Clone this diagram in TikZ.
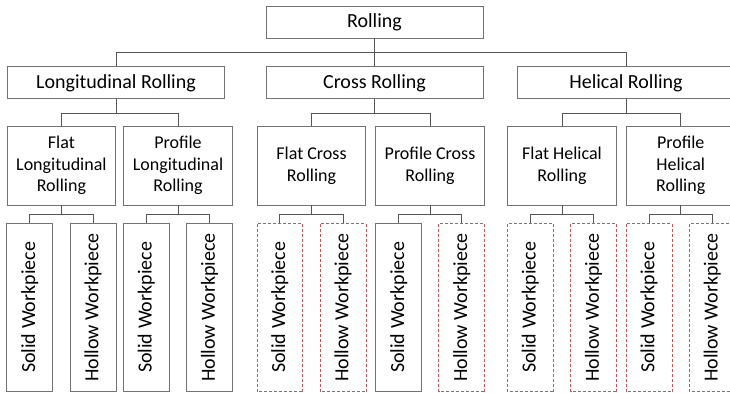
\documentclass[tikz,border=0pt]{standalone}
\usepackage{fontspec}
\setmainfont{Carlito}
\usetikzlibrary{calc}
\definecolor{boxgray}{RGB}{115,115,115}
\definecolor{linegray}{RGB}{85,85,85}
\definecolor{softred}{RGB}{210,80,80}
\definecolor{deepred}{RGB}{195,80,80}
\tikzset{
	box/.style={draw=boxgray, line width=0.9pt, inner sep=2pt, align=center},
	toplevel/.style={box, minimum width=217pt, minimum height=32pt, font=\fontsize{20}{24}\selectfont},
	method/.style={box, minimum width=108.5pt, minimum height=79pt, font=\fontsize{18}{21.7}\selectfont},
	leaf/.style={inner sep=2pt, rotate=90, minimum width=168pt, minimum height=45.5pt, font=\fontsize{20}{24}\selectfont},
	frame/.style={draw=boxgray, line width=0.9pt},
	framedash/.style={draw=softred, line width=0.9pt, dash pattern=on 3pt off 2pt},
	framered/.style={draw=deepred, line width=1pt},
	conn/.style={draw=linegray, line width=0.9pt}
}
\newcommand{\joinnodes}[3]{   % parent, child anchor, bus
	\draw[conn] (#1.south) -- (#1.south |- #3) -| (#2);
}

\begin{document}
\begin{tikzpicture}[x=1pt, y=-1pt]

\useasboundingbox (0,0) rectangle (730,393);
\clip (0,0) rectangle (730,393);

\coordinate (busA) at (0,52.3);
\coordinate (busB) at (0,113.3);
\coordinate (busC) at (0,214.3);

% top and main kinds
\node[toplevel] (root) at (374.5,22) {Rolling};
\node[toplevel] (long) at (116,82.8) {Longitudinal Rolling};
\node[toplevel] (cross) at (374.5,82.8) {Cross Rolling};
\node[toplevel] (helical) at (626,82.8) {Helical Rolling};

% flat and profile variants
\node[method] (flatlong) at (61.4,165.5) {Flat\\Longitudinal\\Rolling};
\node[method] (proflong) at (178,165.5) {Profile\\Longitudinal\\Rolling};
\node[method] (flatcross) at (311.5,165.5) {Flat Cross\\Rolling};
\node[method] (profcross) at (430,165.5) {Profile Cross\\Rolling};
\node[method] (flathel) at (562,165.5) {Flat Helical\\Rolling};
\node[method] (profhel) at (680.7,165.5) {Profile\\Helical\\Rolling};

% workpieces (rotated, so the top is the east anchor)
\node[leaf] (flatlong-solid) at (29.8,307.4) {Solid Workpiece};
\node[leaf] (flatlong-hollow) at (93,307.4) {Hollow Workpiece};
\node[leaf] (proflong-solid) at (146.4,307.4) {Solid Workpiece};
\node[leaf] (proflong-hollow) at (209.6,307.4) {Hollow Workpiece};
\node[leaf] (flatcross-solid) at (279.9,307.4) {Solid Workpiece};
\node[leaf] (flatcross-hollow) at (343.1,307.4) {Hollow Workpiece};
\node[leaf] (profcross-solid) at (398.8,307.4) {Solid Workpiece};
\node[leaf] (profcross-hollow) at (461.8,307.4) {Hollow Workpiece};
\node[leaf] (flathel-solid) at (530.2,307.4) {Solid Workpiece};
\node[leaf] (flathel-hollow) at (593.6,307.4) {Hollow Workpiece};
\node[leaf] (profhel-solid) at (649,307.4) {Solid Workpiece};
\node[leaf] (profhel-hollow) at (712.2,307.4) {Hollow Workpiece};

% frames round the workpieces
\foreach \n/\f in {flatlong-solid/frame, flatlong-hollow/frame,
	proflong-solid/frame, proflong-hollow/frame,
	flatcross-solid/framedash, flatcross-hollow/framedash,
	profcross-solid/framered, profcross-hollow/framedash,
	flathel-solid/framedash, flathel-hollow/framedash,
	profhel-solid/framedash, profhel-hollow/framedash}
	\draw[\f] (\n.south west) rectangle (\n.north east);

\foreach \p in {flatlong, proflong, flatcross, profcross, flathel, profhel}
{
	\joinnodes{\p}{\p-solid.east}{busC};
	\joinnodes{\p}{\p-hollow.east}{busC};
}

\foreach \c in {long, cross, helical}
	\joinnodes{root}{\c.north}{busA};
\foreach \c in {flatlong, proflong}
	\joinnodes{long}{\c.north}{busB};
\foreach \c in {flatcross, profcross}
	\joinnodes{cross}{\c.north}{busB};
\foreach \c in {flathel, profhel}
	\joinnodes{helical}{\c.north}{busB};

\end{tikzpicture}
\end{document}
